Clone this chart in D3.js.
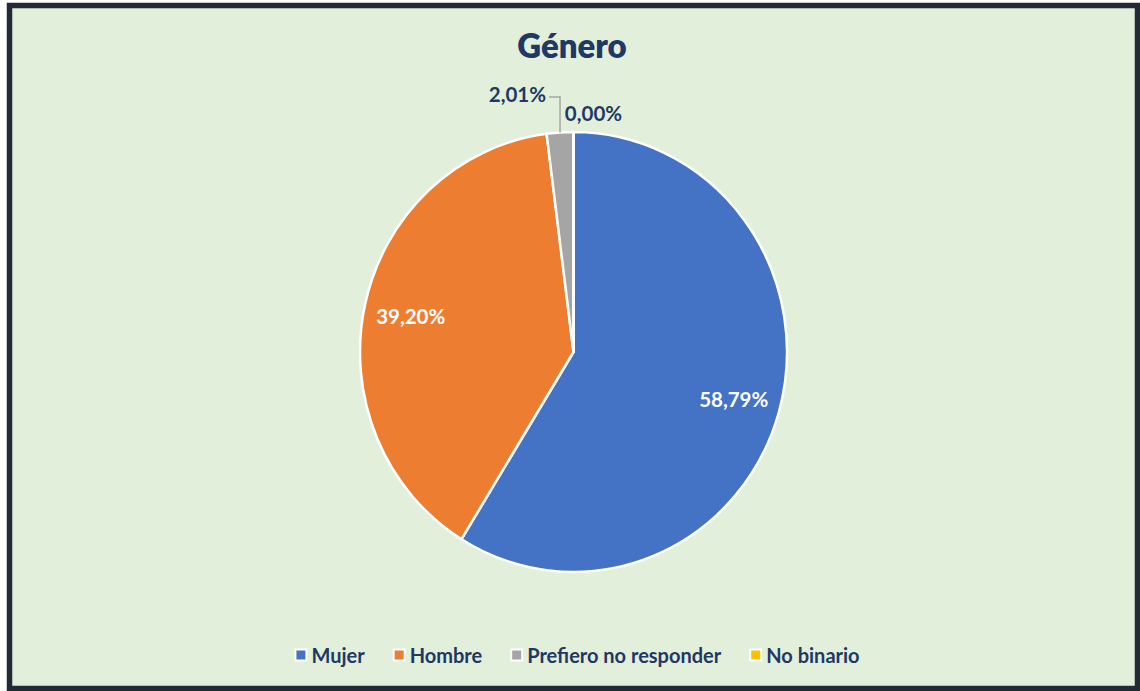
<!DOCTYPE html>
<html>
<head>
<meta charset="utf-8">
<script src="https://cdn.jsdelivr.net/npm/d3@7"></script>
<style>
  html, body { margin: 0; padding: 0; background: #ffffff; }
  svg { display: block; }
  text { font-family: "Source Sans Pro", Lato, "Open Sans", sans-serif; }
</style>
</head>
<body>
<svg id="chart" width="1140" height="691"></svg>
<script>
// Gender distribution of respondents
const categories = ["Mujer", "Hombre", "Prefiero no responder", "No binario"];
const values = [58.79, 39.20, 2.01, 0.00];
const colors = ["#4472c4", "#ed7d31", "#a5a5a5", "#ffc000"];
const title = "Género";

const W = 1140, H = 691;
const svg = d3.select("#chart");

// frame and panel background
svg.append("rect")
  .attr("x", 9.5).attr("y", 5.5)
  .attr("width", W - 12).attr("height", H - 8)
  .attr("fill", "#e2efda")
  .attr("stroke", "#222a35")
  .attr("stroke-width", 5.5);

svg.append("text")
  .attr("x", 572).attr("y", 58)
  .attr("text-anchor", "middle")
  .attr("font-size", 33).attr("font-weight", 800)
  .attr("fill", "#1f3864")
  .text(title);

// pie is drawn slightly taller than wide
const cx = 573.5, cy = 352, r = 213.5, ky = 1.03;
const data = categories.map((c, i) => ({ name: c, value: values[i], color: colors[i] }));

const pie = d3.pie().sort(null).value(d => d.value);
const arcs = pie(data);
const arc = d3.arc().innerRadius(0).outerRadius(r);

const g = svg.append("g").attr("transform", `translate(${cx},${cy}) scale(1,${ky})`);

g.selectAll("path.slice")
  .data(arcs)
  .join("path")
  .attr("class", "slice")
  .attr("d", arc)
  .attr("fill", d => d.data.color)
  .attr("stroke", "#ffffff")
  .attr("stroke-width", 2.5)
  .attr("vector-effect", "non-scaling-stroke")
  .attr("stroke-linejoin", "round");

const fmt = v => v.toFixed(2).replace(".", ",") + "%";
const labels = svg.append("g").attr("transform", `translate(${cx},${cy})`);

// inside labels for the large slices
const inner = d3.arc().innerRadius(r * 0.78).outerRadius(r * 0.78);
arcs.forEach(a => {
  if (a.data.value < 10) return;
  const [x, y] = inner.centroid(a);
  labels.append("text")
    .attr("x", x).attr("y", y * ky)
    .attr("text-anchor", "middle")
    .attr("dominant-baseline", "central")
    .attr("font-size", 20.5).attr("font-weight", 700)
    .attr("fill", "#ffffff")
    .text(fmt(a.data.value));
});

// outside labels for the thin slices
const outer = d3.arc().innerRadius(r).outerRadius(r);
arcs.filter(a => a.data.value < 10).forEach(a => {
  const [ex, ey] = outer.centroid(a);
  const py = ey * ky;
  if (a.data.value > 0) {
    const ly = -255;
    labels.append("polyline")
      .attr("points", [[ex, py], [ex, ly], [ex - 11, ly]].map(p => p.join(",")).join(" "))
      .attr("fill", "none")
      .attr("stroke", "#a5a5a5")
      .attr("stroke-width", 1.5);
    labels.append("text")
      .attr("x", ex - 14).attr("y", ly - 3)
      .attr("text-anchor", "end")
      .attr("dominant-baseline", "central")
      .attr("font-size", 20.5).attr("font-weight", 700)
      .attr("fill", "#1f3864")
      .text(fmt(a.data.value));
  } else {
    labels.append("text")
      .attr("x", ex + 20).attr("y", -239)
      .attr("text-anchor", "middle")
      .attr("dominant-baseline", "central")
      .attr("font-size", 20.5).attr("font-weight", 700)
      .attr("fill", "#1f3864")
      .text(fmt(a.data.value));
  }
});

// legend
const legend = svg.append("g");
let lx = 0;
const gap = 28;
const items = legend.selectAll("g.item").data(data).join("g").attr("class", "item");
items.each(function(d) {
  const it = d3.select(this);
  it.append("rect")
    .attr("x", 0).attr("y", -6.5)
    .attr("width", 13).attr("height", 13)
    .attr("fill", "#ffffff");
  it.append("rect")
    .attr("x", 2).attr("y", -4.5)
    .attr("width", 9).attr("height", 9)
    .attr("fill", d.color);
  const t = it.append("text")
    .attr("x", 17).attr("y", 0)
    .attr("dominant-baseline", "central")
    .attr("font-size", 20).attr("font-weight", 700)
    .attr("fill", "#1f3864")
    .text(d.name);
  const w = 17 + t.node().getComputedTextLength();
  it.attr("transform", `translate(${lx},0)`);
  lx += w + gap;
});
const totalW = lx - gap;
legend.attr("transform", `translate(${577 - totalW / 2},655)`);
</script>
</body>
</html>
